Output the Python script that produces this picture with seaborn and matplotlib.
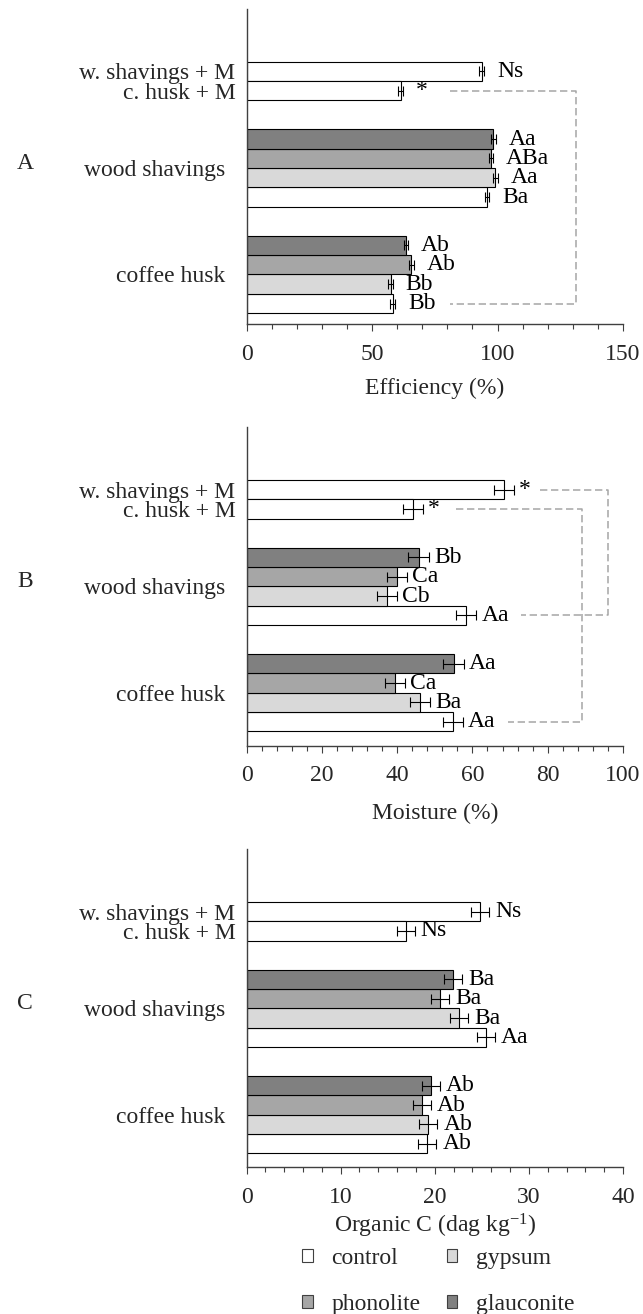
import numpy as np
import pandas as pd
import matplotlib
matplotlib.use("Agg")
import matplotlib.pyplot as plt
from matplotlib.patches import Patch
from matplotlib.ticker import MultipleLocator
import seaborn as sns

sns.set_theme(style="white")
plt.rcParams["font.family"] = ["Liberation Serif", "DejaVu Serif"]
plt.rcParams["mathtext.fontset"] = "custom"
plt.rcParams["mathtext.rm"] = "Liberation Serif"
plt.rcParams["mathtext.it"] = "Liberation Serif:italic"

FS = 17

# ---- data -------------------------------------------------------------
row_names = ["w. shavings + M", "c. husk + M",
             "wood shavings", "wood shavings", "wood shavings", "wood shavings",
             "coffee husk", "coffee husk", "coffee husk", "coffee husk"]
row_treat = ["control", "control",
             "glauconite", "phonolite", "gypsum", "control",
             "glauconite", "phonolite", "gypsum", "control"]
treatments = ["control", "gypsum", "phonolite", "glauconite"]
tick_labels = ["w. shavings + M", "c. husk + M", "wood shavings", "coffee husk"]

eff_vals = [93.8, 61.4, 98.4, 97.4, 99.2, 95.8, 63.5, 65.7, 57.4, 58.2]
eff_err = [1.0, 1.0, 0.9, 0.8, 1.0, 0.9, 0.9, 1.0, 0.9, 0.9]
eff_lab = ["Ns", "*", "Aa", "ABa", "Aa", "Ba", "Ab", "Ab", "Bb", "Bb"]

moi_vals = [68.4, 44.2, 45.8, 39.9, 37.3, 58.3, 55.0, 39.5, 46.1, 54.8]
moi_err = [2.7, 2.7, 2.8, 2.7, 2.7, 2.7, 2.7, 2.7, 2.7, 2.7]
moi_lab = ["*", "*", "Bb", "Ca", "Cb", "Aa", "Aa", "Ca", "Ba", "Aa"]

orc_vals = [24.8, 16.9, 21.9, 20.6, 22.6, 25.4, 19.6, 18.6, 19.3, 19.2]
orc_err = [0.95, 0.95, 0.95, 0.95, 0.95, 0.95, 0.95, 0.95, 0.95, 0.95]
orc_lab = ["Ns", "Ns", "Ba", "Ba", "Ba", "Aa", "Ab", "Ab", "Ab", "Ab"]

# significance brackets: (row from, row to, x start top, x right, x start bottom)
eff_brackets = [(1, 9, 80.9, 131.2, 80.9)]
moi_brackets = [(0, 5, 77.9, 96.1, 73.0), (1, 9, 55.6, 89.0, 69.5)]
orc_brackets = []

palette = {"control": "#FFFFFF", "gypsum": "#D9D9D9",
           "phonolite": "#A6A6A6", "glauconite": "#808080"}

# bar slots: groups of 2, 4, 4 bars separated by a 1.5-bar gap
group_sizes = [2, 4, 4]
positions = []
start = 0.0
for n in group_sizes:
    positions += [start + i for i in range(n)]
    start += n + 1.5
tick_pos = [positions[0], positions[1],
            np.mean(positions[2:6]), np.mean(positions[6:10])]

panels = [
    dict(vals=eff_vals, err=eff_err, lab=eff_lab, br=eff_brackets,
         xmax=150, major=50, xlabel="Efficiency (%)", letter="A",
         rect=[246.5, 9.0, 623.0, 324.3], labelpad=9),
    dict(vals=moi_vals, err=moi_err, lab=moi_lab, br=moi_brackets,
         xmax=100, major=20, xlabel="Moisture (%)", letter="B",
         rect=[246.5, 427.3, 623.0, 745.7], labelpad=12),
    dict(vals=orc_vals, err=orc_err, lab=orc_lab, br=orc_brackets,
         xmax=40, major=10, xlabel="Organic C (dag kg$^{\\mathrm{-1}}$)", letter="C",
         rect=[246.5, 849.3, 623.0, 1167.3], labelpad=3),
]

W, H = 643, 1314
fig = plt.figure(figsize=(W / 100, H / 100), dpi=100)

BAR_PX = 19.35
TOP_UNITS = 2.72

for p in panels:
    x0, y0, x1, y1 = p["rect"]
    ax = fig.add_axes([x0 / W, 1 - y1 / H, (x1 - x0) / W, (y1 - y0) / H])
    df = pd.DataFrame({"pos": positions, "value": p["vals"],
                       "treatment": row_treat, "row": row_names})
    sns.barplot(data=df, x="value", y="pos", hue="treatment", hue_order=treatments,
                palette=palette, orient="h", native_scale=True, dodge=False,
                width=1.0, errorbar=None, edgecolor="black", linewidth=0.8,
                legend=False, ax=ax)
    ax.errorbar(p["vals"], positions, xerr=p["err"], fmt="none", ecolor="black",
                elinewidth=0.8, capsize=3.8, capthick=0.8, zorder=4)
    for v, y, t in zip(p["vals"], positions, p["lab"]):
        ax.annotate(t, xy=(v, y), xytext=(11, 0), textcoords="offset points",
                    ha="left", va="center", fontsize=FS, color="black")
    for (ra, rb, xa, xr, xb) in p["br"]:
        ya, yb = positions[ra], positions[rb]
        ax.plot([xa, xr, xr, xb], [ya, ya, yb, yb], color="#A6A6A6", lw=1.1,
                ls=(0, (4.8, 2.4)), zorder=1, clip_on=False)

    # axis limits and styling
    n_units = (y1 - y0) / BAR_PX
    top = positions[0] - 0.5 - TOP_UNITS
    ax.set_ylim(top + n_units, top)
    ax.set_xlim(0, p["xmax"])
    ax.xaxis.set_major_locator(MultipleLocator(p["major"]))
    ax.xaxis.set_minor_locator(MultipleLocator(p["major"] / 5))
    ax.tick_params(axis="x", which="major", direction="out", length=5.2, width=0.8,
                   color="#404040", labelsize=FS, pad=9, bottom=True)
    ax.tick_params(axis="x", which="minor", direction="out", length=3.6, width=0.8,
                   color="#404040", bottom=True)
    ax.set_yticks(tick_pos)
    ax.set_yticklabels(tick_labels)
    ax.tick_params(axis="y", length=0, labelsize=FS)
    for i, tk in enumerate(ax.yaxis.get_major_ticks()):
        tk.set_pad(8.0 if i < 2 else 15.5)
    ax.set_ylabel("")
    ax.set_xlabel(p["xlabel"], fontsize=FS, labelpad=p["labelpad"])
    for s in ["top", "right"]:
        ax.spines[s].set_visible(False)
    for s in ["left", "bottom"]:
        ax.spines[s].set_color("#404040")
        ax.spines[s].set_linewidth(1.0)
    ax.grid(False)
    ax.set_facecolor("white")
    ax.annotate(p["letter"], xy=(25 / W, tick_pos[2]),
                xycoords=("figure fraction", "data"), xytext=(0, 3.5),
                textcoords="offset points", ha="center", va="center", fontsize=FS)

handles = [Patch(facecolor=palette[t], edgecolor="#404040", linewidth=0.8, label=t)
           for t in ["control", "phonolite", "gypsum", "glauconite"]]
fig.legend(handles=handles, ncol=2, loc="upper left",
           bbox_to_anchor=(302 / W, 1 - 1248 / H), frameon=False, fontsize=FS,
           handlelength=0.45, handleheight=0.45, handletextpad=0.8,
           columnspacing=1.1, labelspacing=1.05, borderpad=0, borderaxespad=0)

fig.savefig("out.png", dpi=100, facecolor="white")
